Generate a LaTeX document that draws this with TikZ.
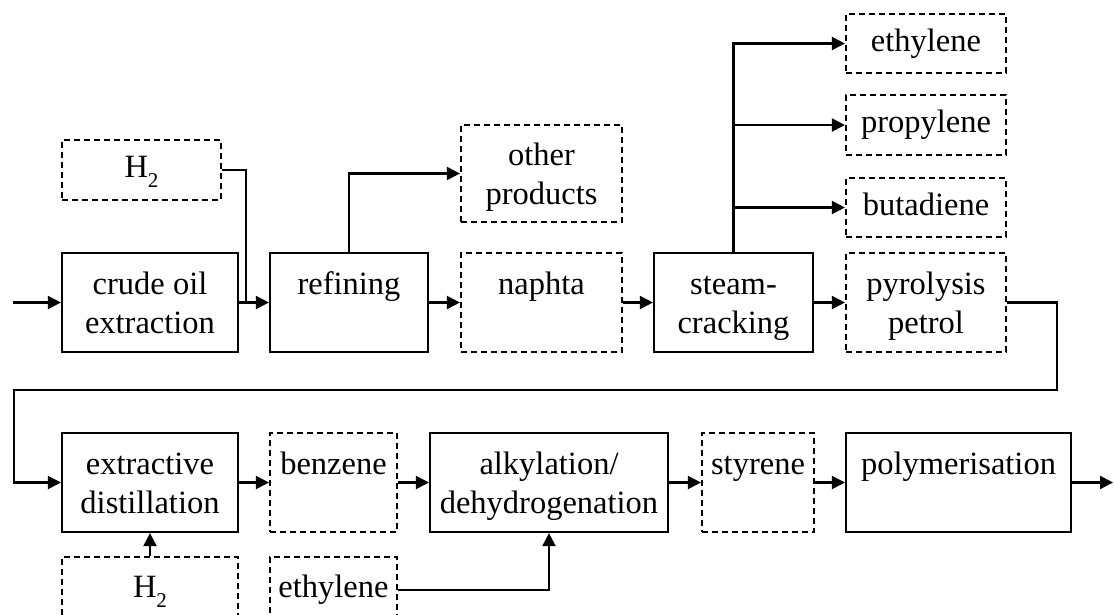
\documentclass[tikz,border=0pt]{standalone}
\usepackage{fontspec}
\setmainfont{Liberation Serif}
\usetikzlibrary{arrows.meta}
\newcommand{\twol}[2]{\rule{0pt}{35pt}#1\\\strut #2}
\newcommand{\hyd}{\strut H\raisebox{-0.3em}{\fontsize{21}{21}\selectfont 2}}
\begin{document}
\begin{tikzpicture}[x=1pt,y=-1pt,
  box/.style={draw, line width=2.2pt, inner sep=0pt, align=center,
    font=\fontsize{32.5}{39}\selectfont},
  proc/.style={box},
  prod/.style={box, dash pattern=on 6pt off 4pt},
  conn/.style={line width=2.2pt},
  arr/.style={conn, -{Triangle[length=13pt,width=13pt]}},
]
\useasboundingbox (0,0) rectangle (1114,614);
% top row
\node[proc, minimum width=176pt, minimum height=99pt] (crude) at (150,302.5) {\twol{crude oil}{extraction}};
\node[proc, minimum width=158pt, minimum height=99pt] (refin) at (349,302.5) {\twol{refining}{}};
\node[prod, minimum width=159pt, minimum height=60pt] (h2a) at (141.5,170) {\hyd};
\node[prod, minimum width=161pt, minimum height=97pt] (other) at (541.5,173.5) {\twol{other}{products}};
\node[prod, minimum width=161pt, minimum height=99pt] (naph) at (541.5,302.5) {\twol{naphta}{}};
\node[proc, minimum width=159pt, minimum height=99pt] (steam) at (733.5,302.5) {\twol{steam-}{cracking}};
\node[prod, minimum width=160pt, minimum height=59pt] (ethyl) at (926,43.5) {\strut ethylene};
\node[prod, minimum width=160pt, minimum height=60pt] (propyl) at (926,125) {\strut propylene};
\node[prod, minimum width=160pt, minimum height=59pt] (buta) at (926,207.5) {\strut butadiene};
\node[prod, minimum width=160pt, minimum height=99pt] (pyro) at (926,302.5) {\twol{pyrolysis}{petrol}};
% bottom row
\node[proc, minimum width=176pt, minimum height=99pt] (extr) at (150,482.5) {\twol{extractive}{distillation}};
\node[prod, minimum width=127pt, minimum height=99pt] (benz) at (333.5,482.5) {\twol{benzene}{}};
\node[proc, minimum width=238pt, minimum height=99pt] (alk) at (549,482.5) {\twol{alkylation/}{dehydrogenation}};
\node[prod, minimum width=112pt, minimum height=99pt] (styr) at (758,482.5) {\twol{styrene}{}};
\node[proc, minimum width=225pt, minimum height=99pt] (poly) at (958.5,482.5) {\twol{polymerisation}{}};
\node[prod, minimum width=176pt, minimum height=66pt] (h2b) at (150,590) {\hyd};
\node[prod, minimum width=127pt, minimum height=66pt] (eth2) at (333.5,590) {\strut ethylene};
% coordinates
\coordinate (in0) at (13,302.5);
\coordinate (j1) at (246,302.5);
\coordinate (c1) at (1057,390);
\coordinate (c2) at (14,390);
\coordinate (out) at (1113,482.5);
% connectors
\draw[arr] (in0) -- (crude.west);
\draw[arr] (crude.east) -- (refin.west);
\draw[conn] (h2a.east) -| (j1);
\draw[arr] (refin.north) |- (other.west);
\draw[arr] (refin.east) -- (naph.west);
\draw[arr] (naph.east) -- (steam.west);
\draw[arr] (steam.north) |- (ethyl.west);
\draw[arr] (steam.north) |- (propyl.west);
\draw[arr] (steam.north) |- (buta.west);
\draw[arr] (steam.east) -- (pyro.west);
\draw[arr] (pyro.east) -| (c1) -- (c2) |- (extr.west);
\draw[arr] (extr.east) -- (benz.west);
\draw[arr] (benz.east) -- (alk.west);
\draw[arr] (alk.east) -- (styr.west);
\draw[arr] (styr.east) -- (poly.west);
\draw[arr] (poly.east) -- (out);
\draw[arr] (h2b.north) -- (extr.south);
\draw[arr] (eth2.east) -| (alk.south);
\end{tikzpicture}
\end{document}
